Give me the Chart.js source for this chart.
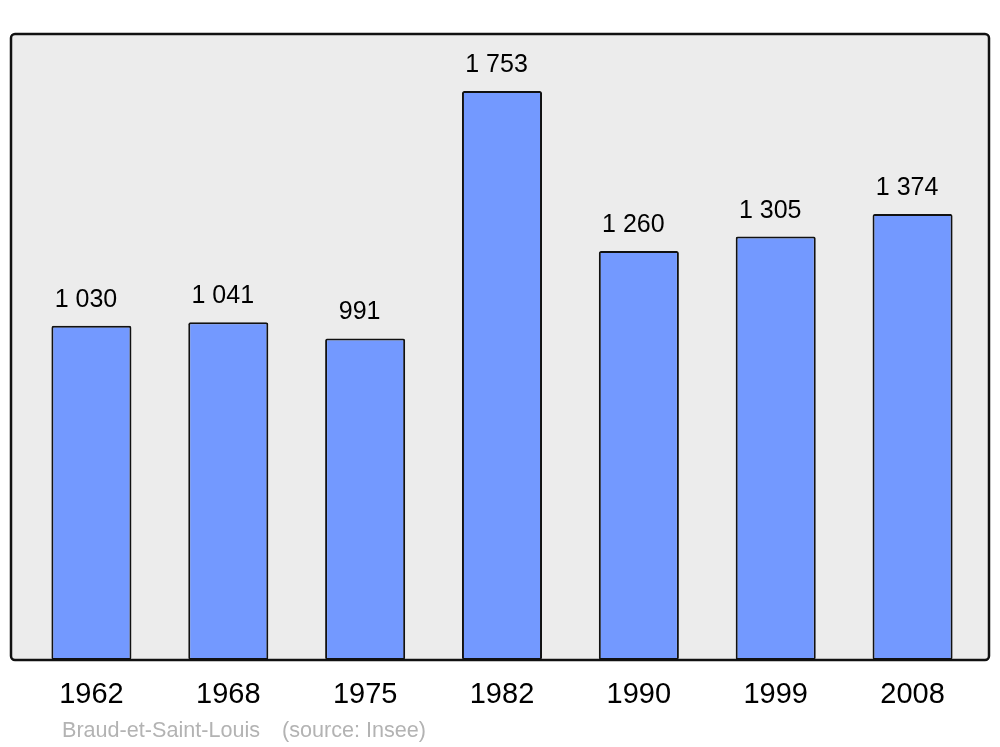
<!DOCTYPE html>
<html>
<head>
<meta charset="utf-8">
<script src="https://cdn.jsdelivr.net/npm/chart.js@4.4.1/dist/chart.umd.min.js"></script>
<style>
  html, body { margin: 0; padding: 0; background: #ffffff; }
  #wrap { width: 1000px; height: 747px; position: relative; }
</style>
</head>
<body>
<div id="wrap"><canvas id="popChart" width="1000" height="747"></canvas></div>
<script>
// données de population (source : Insee)
const annees = ['1962', '1968', '1975', '1982', '1990', '1999', '2008'];
const population = [1030, 1041, 991, 1753, 1260, 1305, 1374];
const etiquettes = ['1 030', '1 041', '991', '1 753', '1 260', '1 305', '1 374'];
const commune = 'Braud-et-Saint-Louis';
const source = '(source: Insee)';

// fond gris arrondi derrière la zone du graphique
const fondPanneau = {
    id: 'fondPanneau',
    beforeDraw(chart) {
        const ctx = chart.ctx;
        const x0 = 11, y0 = 34, x1 = 989, y1 = 660, r = 4;
        ctx.save();
        ctx.beginPath();
        ctx.roundRect(x0, y0, x1 - x0, y1 - y0, r);
        ctx.fillStyle = '#ececec';
        ctx.fill();
        ctx.restore();
    },
    afterDatasetsDraw(chart) {
        const ctx = chart.ctx;
        const x0 = 11, y0 = 34, x1 = 989, y1 = 660, r = 4;
        ctx.save();
        ctx.beginPath();
        ctx.roundRect(x0, y0, x1 - x0, y1 - y0, r);
        ctx.lineWidth = 2.5;
        ctx.strokeStyle = '#111111';
        ctx.stroke();
        ctx.restore();
    }
};

// valeurs au-dessus des barres + légende de source
const valeurs = {
    id: 'valeurs',
    afterDraw(chart) {
        const ctx = chart.ctx;
        const meta = chart.getDatasetMeta(0);
        ctx.save();
        ctx.font = '25px "Liberation Sans", Arial, sans-serif';
        ctx.fillStyle = '#000000';
        ctx.textAlign = 'center';
        ctx.textBaseline = 'alphabetic';
        meta.data.forEach((bar, i) => {
            ctx.fillText(etiquettes[i], bar.x - 5.5, bar.y - 19);
        });
        ctx.font = '21.6px "Liberation Sans", Arial, sans-serif';
        ctx.fillStyle = '#b3b3b3';
        ctx.textAlign = 'left';
        ctx.fillText(commune, 62, 737);
        ctx.fillText(source, 282, 737);
        ctx.restore();
    }
};

new Chart(document.getElementById('popChart'), {
    type: 'bar',
    data: {
        labels: annees,
        datasets: [{
            data: population,
            backgroundColor: '#7399ff',
            borderColor: '#111111',
            borderWidth: 2,
            borderRadius: 2,
            borderSkipped: false,
            barPercentage: 0.585,
            categoryPercentage: 1
        }]
    },
    options: {
        responsive: false,
        animation: false,
        devicePixelRatio: 1,
        layout: { padding: { left: 23, right: 19, top: 34, bottom: 0 } },
        plugins: {
            legend: { display: false },
            tooltip: { enabled: false }
        },
        scales: {
            x: {
                grid: { display: false, drawTicks: false },
                border: { display: false },
                ticks: {
                    color: '#000000',
                    padding: 18,
                    font: { size: 29, family: '"Liberation Sans", Arial, sans-serif' }
                },
                afterFit(scale) { scale.height = 87; }
            },
            y: {
                display: false,
                min: 0,
                max: 1929
            }
        }
    },
    plugins: [fondPanneau, valeurs]
});
</script>
</body>
</html>
